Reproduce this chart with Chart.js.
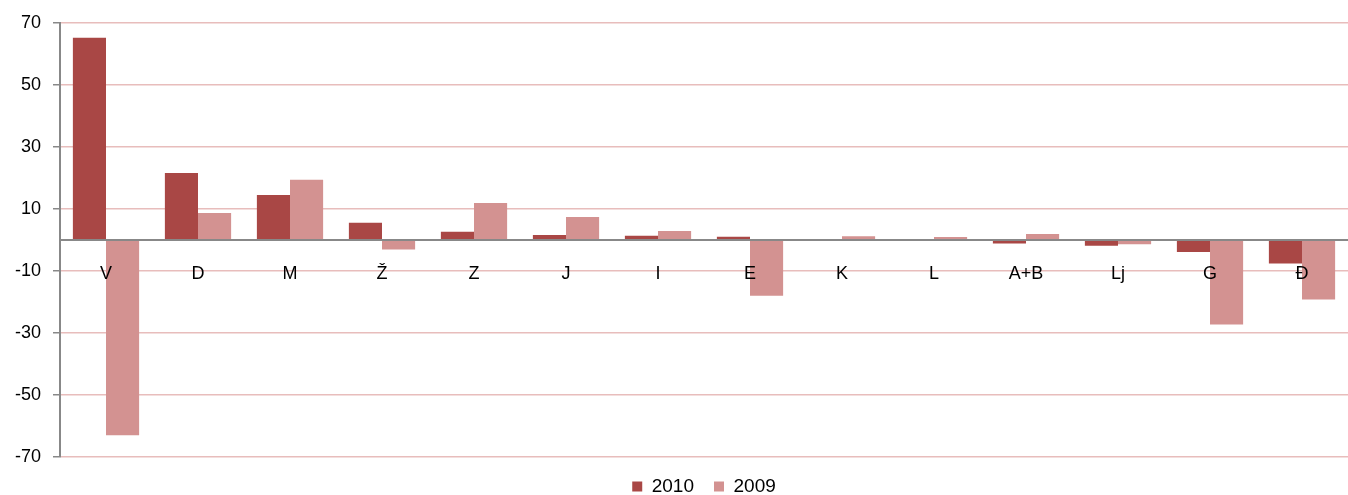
<!DOCTYPE html>
<html>
<head>
<meta charset="utf-8">
<script src="https://cdn.jsdelivr.net/npm/chart.js@4/dist/chart.umd.min.js"></script>
<style>
  html, body { margin: 0; padding: 0; background: #ffffff; }
  #wrap { width: 1348px; height: 495px; }
</style>
</head>
<body>
<div id="wrap"><canvas id="c"></canvas></div>
<script>
const categories = ['V', 'D', 'M', 'Ž', 'Z', 'J', 'I', 'E', 'K', 'L', 'A+B', 'Lj', 'G', 'Đ'];
const values2010 = [65.2, 21.6, 14.5, 5.5, 2.6, 1.6, 1.3, 1.0, 0, 0, -1.2, -1.9, -3.9, -7.6];
const values2009 = [-63.0, 8.7, 19.4, -3.1, 11.9, 7.4, 2.9, -18.0, 1.2, 0.9, 1.9, -1.4, -27.3, -19.2];
const seriesNames = ['2010', '2009'];
const yMin = -70, yMax = 70, yStep = 20;

const FONT = 'Liberation Sans, Arial, sans-serif';

const legendFit = {
  id: 'legendFit',
  beforeInit(chart) {
    const orig = chart.legend.fit;
    chart.legend.fit = function () {
      orig.bind(chart.legend)();
      this.height = 38;
    };
  }
};

new Chart(document.getElementById('c'), {
  type: 'bar',
  data: {
    labels: categories,
    datasets: [
      { label: seriesNames[0], data: values2010, backgroundColor: '#A94745', borderWidth: 0 },
      { label: seriesNames[1], data: values2009, backgroundColor: '#D39291', borderWidth: 0 }
    ]
  },
  plugins: [legendFit],
  options: {
    responsive: true,
    maintainAspectRatio: false,
    animation: false,
    layout: { padding: { top: 22, right: 0, bottom: 0, left: 0 } },
    datasets: { bar: { categoryPercentage: 0.72, barPercentage: 1.0 } },
    plugins: {
      tooltip: { enabled: false },
      legend: {
        position: 'bottom',
        fullSize: false,
        labels: {
          boxWidth: 10, boxHeight: 10, padding: 20,
          color: '#000', font: { family: FONT, size: 19 }
        }
      }
    },
    scales: {
      x: {
        position: { y: 0 },
        afterFit(scale) { scale.height = 0; },
        grid: { display: false, drawTicks: false },
        border: { display: true, color: '#888888', width: 2, z: 1 },
        ticks: {
          z: 2, padding: 23, color: '#000', maxRotation: 0, autoSkip: false,
          font: { family: FONT, size: 18 }
        }
      },
      y: {
        min: yMin, max: yMax,
        afterFit(scale) { scale.width = 60; },
        grid: { color: '#E8BDBC', lineWidth: 1.5, tickColor: '#888888', tickLength: 7 },
        border: { display: true, color: '#888888', width: 2 },
        ticks: {
          stepSize: yStep, padding: 12, color: '#000',
          font: { family: FONT, size: 18 }
        }
      }
    }
  }
});
</script>
</body>
</html>
